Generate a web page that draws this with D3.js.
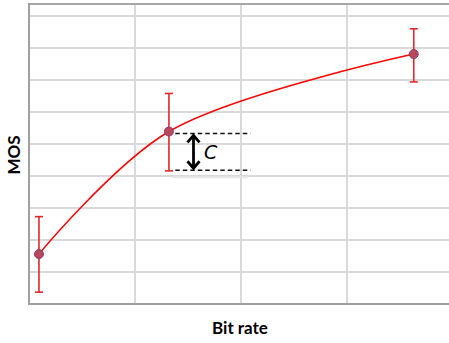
<!DOCTYPE html>
<html>
<head>
<meta charset="utf-8">
<script src="https://cdn.jsdelivr.net/npm/d3@7"></script>
<style>
  html, body { margin: 0; padding: 0; background: #fff; }
  svg { display: block; }
</style>
</head>
<body>
<svg id="chart" width="449" height="343"></svg>
<script>
// Measured points: bit-rate position and mean opinion score with error range
const bitRate = [0.094, 1.32, 3.63];
const mos = [1.56, 5.39, 7.81];
const mosLow = [0.37, 4.16, 6.94];
const mosHigh = [2.73, 6.58, 8.6];

// Gridline positions
const xGrid = [1, 2, 3, 4];
const yGrid = [1, 2, 3, 4, 5, 6, 7, 8, 9];

// Annotation marking the distance C below the middle point
const cUpper = 5.33;
const cLower = 4.18;
const cSpan = [1.38, 2.09];

const svg = d3.select("#chart");
const plotLeft = 29, plotTop = 4, plotBottom = 304, plotRight = 470;

const x = d3.scaleLinear().domain([0, 4]).range([plotLeft, plotLeft + 424]);
const y = d3.scaleLinear().domain([0, 9]).range([plotBottom, 16]);

// Gridlines
svg.append("g").selectAll("line").data(yGrid).join("line")
  .attr("x1", plotLeft).attr("x2", plotRight)
  .attr("y1", d => y(d)).attr("y2", d => y(d))
  .attr("stroke", "#d9d9d9").attr("stroke-width", 2);
svg.append("g").selectAll("line").data(xGrid).join("line")
  .attr("x1", d => x(d)).attr("x2", d => x(d))
  .attr("y1", plotTop).attr("y2", plotBottom)
  .attr("stroke", "#d9d9d9").attr("stroke-width", 2);

// Frame: top border, left axis, bottom axis
svg.append("line").attr("x1", plotLeft).attr("x2", plotRight).attr("y1", plotTop).attr("y2", plotTop)
  .attr("stroke", "#a6a6a6").attr("stroke-width", 2);
svg.append("line").attr("x1", plotLeft).attr("x2", plotLeft).attr("y1", plotTop - 1).attr("y2", plotBottom + 1)
  .attr("stroke", "#a0a0a0").attr("stroke-width", 2);
svg.append("line").attr("x1", plotLeft - 1).attr("x2", plotRight).attr("y1", plotBottom).attr("y2", plotBottom)
  .attr("stroke", "#a0a0a0").attr("stroke-width", 2);

const pts = bitRate.map((b, i) => ({ b, m: mos[i], lo: mosLow[i], hi: mosHigh[i] }));

// Smoothed curve through the measurements
const line = d3.line().x(d => x(d.b)).y(d => y(d.m)).curve(d3.curveCatmullRom.alpha(0.5));
svg.append("path").datum(pts).attr("d", line)
  .attr("fill", "none").attr("stroke", "#ff0000").attr("stroke-width", 1.5);

// Error bars
const eb = svg.append("g").attr("stroke", "#e3282c").attr("stroke-width", 1.6);
pts.forEach(d => {
  eb.append("line").attr("x1", x(d.b)).attr("x2", x(d.b)).attr("y1", y(d.hi)).attr("y2", y(d.lo));
  eb.append("line").attr("x1", x(d.b) - 4).attr("x2", x(d.b) + 4).attr("y1", y(d.hi)).attr("y2", y(d.hi));
  eb.append("line").attr("x1", x(d.b) - 4).attr("x2", x(d.b) + 4).attr("y1", y(d.lo)).attr("y2", y(d.lo));
});

// Markers
svg.append("g").selectAll("circle").data(pts).join("circle")
  .attr("cx", d => x(d.b)).attr("cy", d => y(d.m)).attr("r", 4.5)
  .attr("fill", "#b8475a").attr("stroke", "#8e3a72").attr("stroke-width", 1);

// Annotation: dashed reference lines
const ann = svg.append("g");
ann.append("line").attr("x1", x(cSpan[0]) - 3).attr("x2", x(cSpan[1]) - 3)
  .attr("y1", y(cLower) + 7).attr("y2", y(cLower) + 7)
  .attr("stroke", "#e6e6e6").attr("stroke-width", 2);
[cUpper, cLower].forEach(v => {
  ann.append("line").attr("x1", x(cSpan[0])).attr("x2", x(cSpan[1]))
    .attr("y1", y(v)).attr("y2", y(v))
    .attr("stroke", "#111").attr("stroke-width", 1.4).attr("stroke-dasharray", "4.5,3");
});

// Double-headed arrow
const ax = 193.5;
const ya = y(cUpper) + 1, yb = y(cLower) - 1;
ann.append("line").attr("x1", ax).attr("x2", ax).attr("y1", ya + 1).attr("y2", yb - 1)
  .attr("stroke", "#000").attr("stroke-width", 2.8);
ann.append("path").attr("d", `M${ax - 6},${ya + 8} L${ax},${ya + 1} L${ax + 6},${ya + 8}`)
  .attr("fill", "none").attr("stroke", "#000").attr("stroke-width", 2.8);
ann.append("path").attr("d", `M${ax - 6},${yb - 8} L${ax},${yb - 1} L${ax + 6},${yb - 8}`)
  .attr("fill", "none").attr("stroke", "#000").attr("stroke-width", 2.8);
ann.append("text").attr("x", 204).attr("y", (ya + yb) / 2 + 7.5)
  .attr("font-family", "'DejaVu Sans', sans-serif").attr("font-style", "italic")
  .attr("font-size", 19).attr("fill", "#000").text("C");

// Axis titles
svg.append("text").attr("x", 240).attr("y", 334).attr("text-anchor", "middle")
  .attr("font-family", "Lato, 'Open Sans', sans-serif").attr("font-weight", "bold")
  .attr("font-size", 17).attr("fill", "#000").text("Bit rate");
svg.append("text").attr("transform", "translate(20,155) rotate(-90)").attr("text-anchor", "middle")
  .attr("font-family", "Lato, 'Open Sans', sans-serif").attr("font-weight", "bold")
  .attr("font-size", 17).attr("fill", "#000").text("MOS");
</script>
</body>
</html>
